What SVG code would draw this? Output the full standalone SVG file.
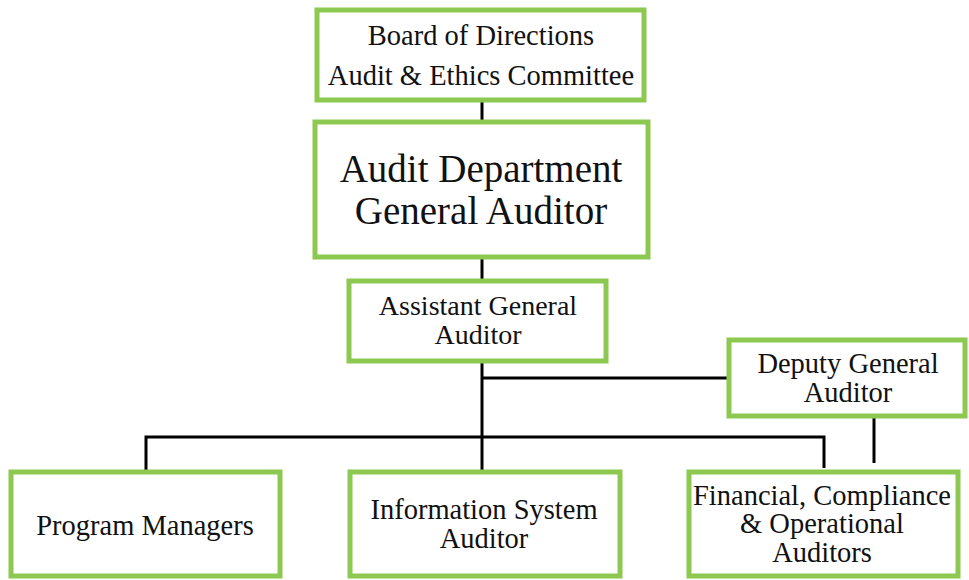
<svg xmlns="http://www.w3.org/2000/svg" width="969" height="580" viewBox="0 0 969 580">
<style>
.box{fill:#fff;stroke:#8DC850;stroke-width:5}
.t{font-family:"Liberation Serif","Times New Roman",serif;fill:#111;text-anchor:middle}
.c{stroke:#000;stroke-width:3;fill:none}
</style>
<rect width="969" height="580" fill="#fff"/>
<g id="connectors">
<line class="c" x1="482" y1="100" x2="482" y2="121"/>
<line class="c" x1="482" y1="258" x2="482" y2="280"/>
<line class="c" x1="482" y1="362" x2="482" y2="470"/>
<line class="c" x1="482" y1="378" x2="728" y2="378"/>
<polyline class="c" points="146,470 146,437 824,437 824,468"/>
<line class="c" x1="874" y1="417" x2="874" y2="463"/>
</g>
<g id="board">
<rect class="box" x="317" y="10" width="327" height="90"/>
<text class="t" x="481" y="45" font-size="28.5">Board of Directions</text>
<text class="t" x="481" y="85" font-size="28.5">Audit &amp; Ethics Committee</text>
</g>
<g id="audit-dept">
<rect class="box" x="315" y="122" width="333" height="135"/>
<text class="t" x="481" y="182" font-size="39">Audit Department</text>
<text class="t" x="481" y="224" font-size="39">General Auditor</text>
</g>
<g id="assistant">
<rect class="box" x="349" y="281" width="257" height="80"/>
<text class="t" x="478" y="315" font-size="28">Assistant General</text>
<text class="t" x="478" y="344" font-size="28">Auditor</text>
</g>
<g id="deputy">
<rect class="box" x="729" y="340" width="236" height="76"/>
<text class="t" x="848" y="373" font-size="28.5">Deputy General</text>
<text class="t" x="848" y="402" font-size="28.5">Auditor</text>
</g>
<g id="program-managers">
<rect class="box" x="11" y="472" width="269" height="104"/>
<text class="t" x="145" y="535" font-size="28.5">Program Managers</text>
</g>
<g id="info-system">
<rect class="box" x="350" y="472" width="270" height="104"/>
<text class="t" x="484" y="519" font-size="28.5">Information System</text>
<text class="t" x="484" y="548" font-size="28.5">Auditor</text>
</g>
<g id="financial">
<rect class="box" x="689" y="472" width="269" height="104"/>
<text class="t" x="822" y="505" font-size="28.5">Financial, Compliance</text>
<text class="t" x="822" y="533" font-size="28.5">&amp; Operational</text>
<text class="t" x="822" y="562" font-size="28.5">Auditors</text>
</g>
</svg>
